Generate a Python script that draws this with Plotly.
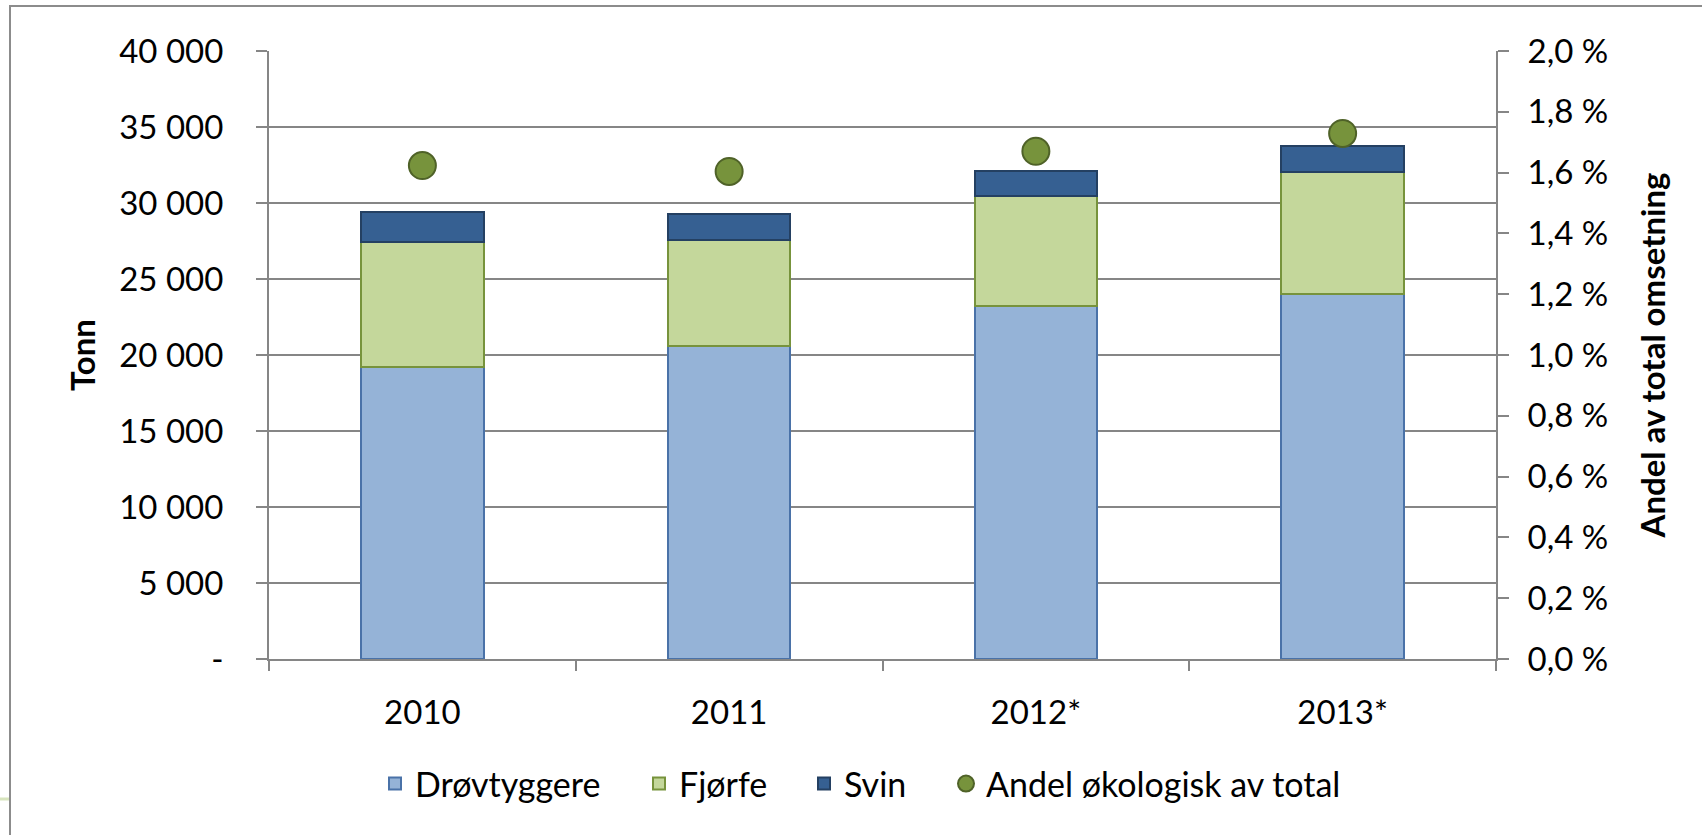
import plotly.graph_objects as go

years = ["2010", "2011", "2012*", "2013*"]
drovtyggere = [19210, 20570, 23200, 24030]
fjorfe = [8210, 7000, 7280, 8030]
svin = [2010, 1710, 1640, 1660]
andel = [0.01623, 0.01604, 0.01670, 0.01729]

y_ticks = [0, 5000, 10000, 15000, 20000, 25000, 30000, 35000, 40000]
y_ticktext = ["-", "5 000", "10 000", "15 000", "20 000", "25 000", "30 000", "35 000", "40 000"]
y2_ticks = [0.0, 0.002, 0.004, 0.006, 0.008, 0.010, 0.012, 0.014, 0.016, 0.018, 0.020]
y2_ticktext = ["0,0 %", "0,2 %", "0,4 %", "0,6 %", "0,8 %", "1,0 %", "1,2 %", "1,4 %", "1,6 %", "1,8 %", "2,0 %"]

FAM = "Lato, Noto Sans, sans-serif"
TICK_FONT = dict(family=FAM, size=33, color="#000000")
LEG_FONT = dict(family=FAM, size=34, color="#000000")
TITLE_FONT = dict(family=FAM, size=33, color="#000000")

fig = go.Figure()
fig.add_trace(go.Bar(name="Drøvtyggere", x=years, y=drovtyggere, legend="legend",
                     marker=dict(color="#95B3D7", line=dict(color="#4A72A8", width=2))))
fig.add_trace(go.Bar(name="Fjørfe", x=years, y=fjorfe, legend="legend2",
                     marker=dict(color="#C4D79B", line=dict(color="#77933C", width=2))))
fig.add_trace(go.Bar(name="Svin", x=years, y=svin, legend="legend3",
                     marker=dict(color="#366092", line=dict(color="#244062", width=2))))
fig.add_trace(go.Scatter(name="Andel økologisk av total", x=years, y=andel, yaxis="y2",
                         mode="markers", legend="legend4",
                         marker=dict(size=27, color="#77933C", line=dict(color="#4F6228", width=2))))

L, R, T, B = 269, 1496, 51, 659
W, H = 1702, 835
pw, ph = R - L, B - T

LEG_Y = (B - 784) / ph


def leg(px_left):
    return dict(orientation="h", x=(px_left - L) / pw, xanchor="left", y=LEG_Y, yanchor="middle",
                font=LEG_FONT, itemwidth=30, bgcolor="rgba(0,0,0,0)")


fig.update_layout(
    width=W, height=H,
    margin=dict(l=L, r=W - R, t=T, b=H - B, autoexpand=False),
    barmode="stack", bargap=0.6,
    plot_bgcolor="white", paper_bgcolor="white",
    showlegend=True,
    legend=leg(375),
    legend2=leg(639),
    legend3=leg(804),
    legend4=leg(946),
    xaxis=dict(type="category", showline=True, linecolor="#868686", linewidth=2,
               ticks="outside", tickson="boundaries", ticklen=10, tickcolor="#868686", tickwidth=2,
               tickfont=TICK_FONT, ticklabelstandoff=23, showgrid=False, zeroline=False,
               automargin=False),
    yaxis=dict(range=[0, 40000], tickvals=y_ticks, ticktext=y_ticktext,
               showline=True, linecolor="#868686", linewidth=2,
               ticks="outside", ticklen=11, tickcolor="#868686", tickwidth=2,
               showgrid=True, gridcolor="#868686", gridwidth=2, zeroline=False,
               tickfont=TICK_FONT, ticklabelstandoff=26, automargin=False,
               title=dict(text="<b>Tonn</b>", font=TITLE_FONT, standoff=14)),
    yaxis2=dict(range=[0, 0.02], tickvals=y2_ticks, ticktext=y2_ticktext, overlaying="y", side="right",
                showline=True, linecolor="#868686", linewidth=2,
                ticks="outside", ticklen=11, tickcolor="#868686", tickwidth=2,
                showgrid=False, zeroline=False, automargin=False,
                tickfont=TICK_FONT, ticklabelstandoff=12,
                title=dict(text="<b>Andel av total omsetning</b>", font=TITLE_FONT, standoff=35)),
)

# outer chart border
fig.add_shape(type="rect", xref="paper", yref="paper",
              x0=(10 - L) / pw, x1=(W + 20 - L) / pw,
              y0=(B - (H + 20)) / ph, y1=(B - 6) / ph,
              line=dict(color="#8C8C8C", width=2), fillcolor="rgba(0,0,0,0)", layer="below")
# small decorative line left of the border
fig.add_shape(type="line", xref="paper", yref="paper",
              x0=(0 - L) / pw, x1=(9 - L) / pw, y0=(B - 799) / ph, y1=(B - 799) / ph,
              line=dict(color="#D7E4BD", width=3))

fig.write_html("out.html", config={"displayModeBar": False},
               post_script="document.body.style.margin='0';")
